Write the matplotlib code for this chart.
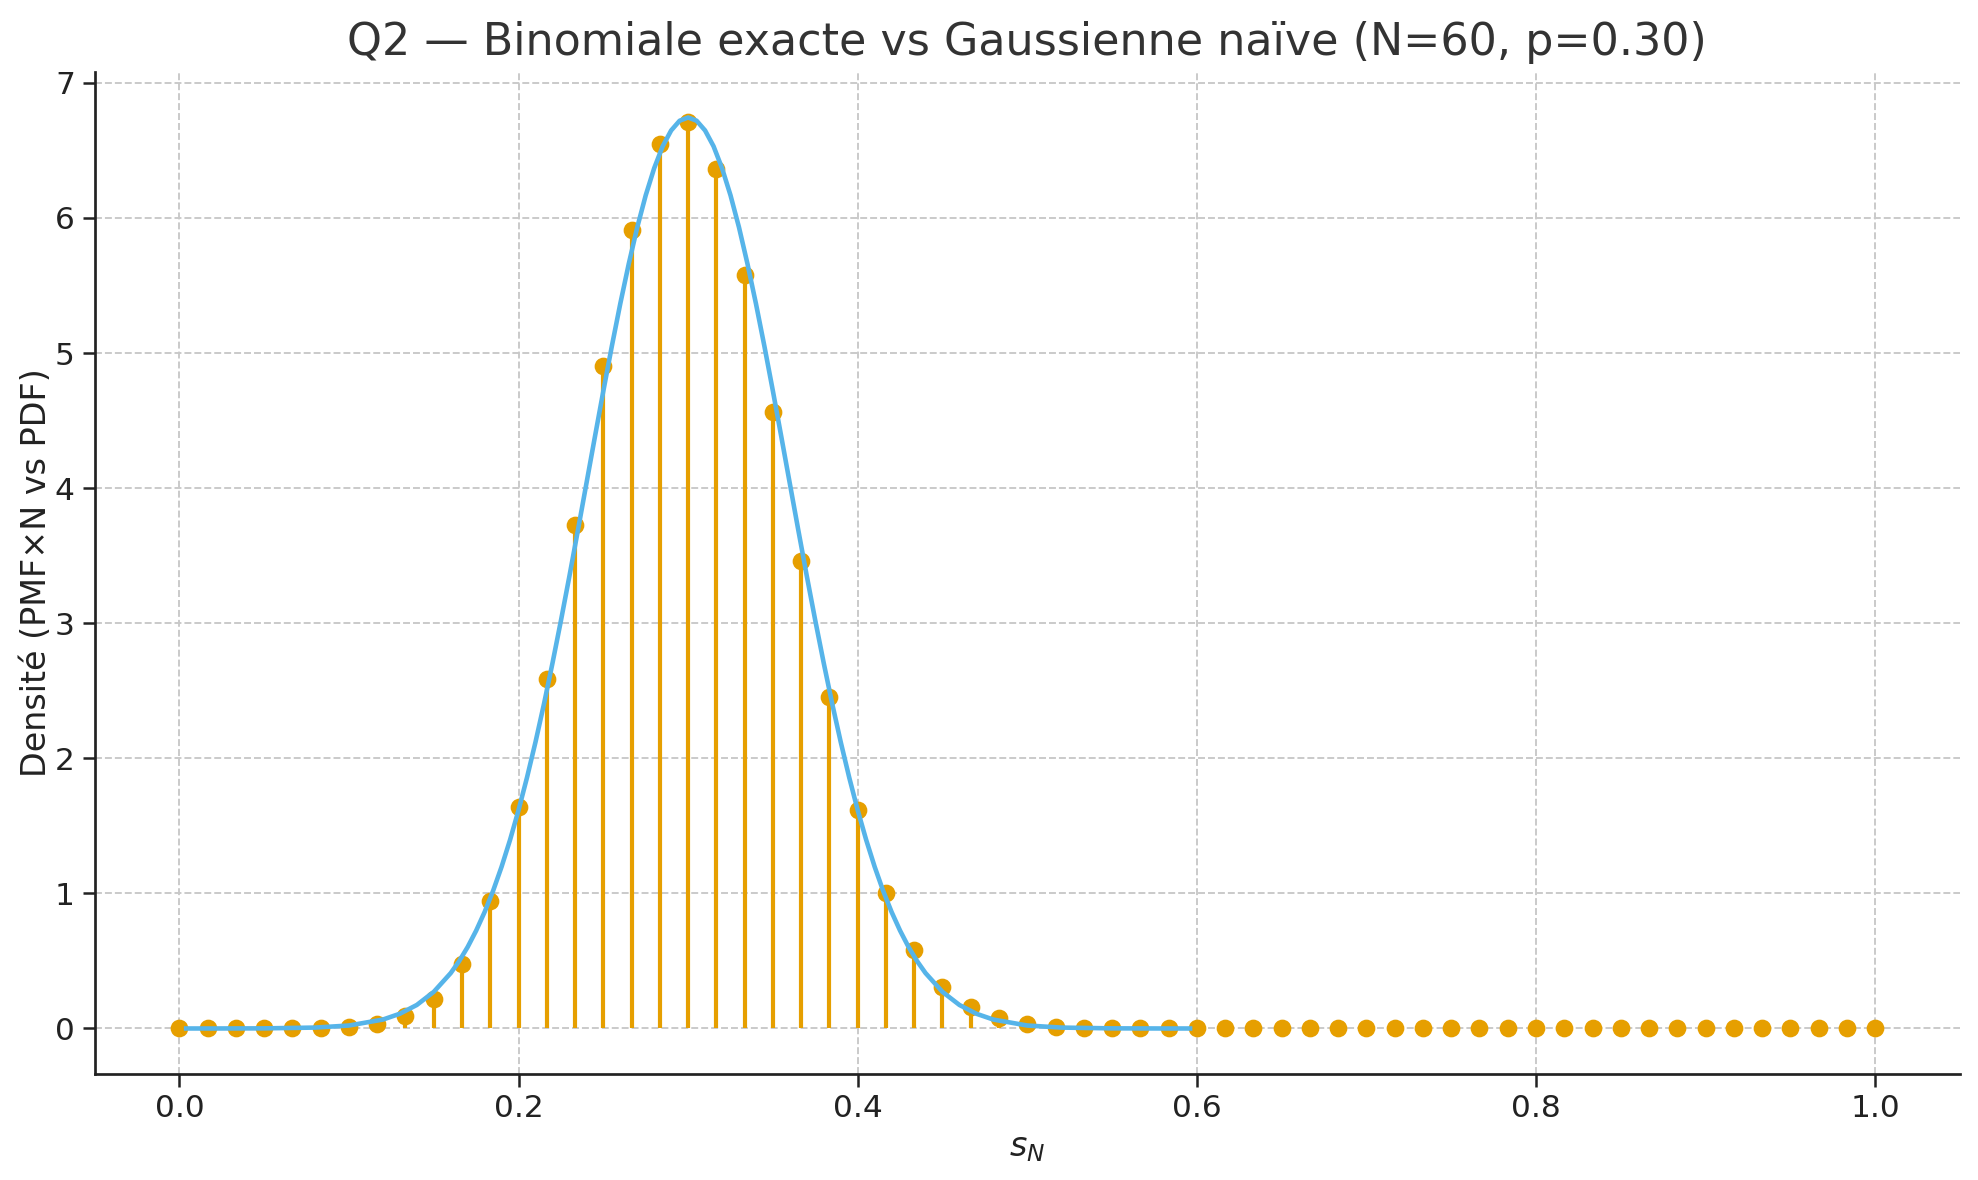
import matplotlib.pyplot as plt
import numpy as np

# Binomiale exacte (PMF x N) aux points s_N = k/N, N=60
N = 60
k = np.arange(0, 61)
s_N = k / N
pmf_x_N = [0.0, 0.0, 0.0, 0.0, 0.0005, 0.0024, 0.0095, 0.031, 0.089, 0.22,
           0.48, 0.94, 1.64, 2.59, 3.73, 4.90, 5.91, 6.55, 6.71, 6.36,
           5.58, 4.56, 3.46, 2.45, 1.62, 1.00, 0.58, 0.31, 0.157, 0.074,
           0.033, 0.014, 0.005, 0.002, 0.0007, 0.0002] + [0.0] * 25

# Gaussienne naive
x_gauss = [0.004, 0.02, 0.05, 0.08, 0.10, 0.12, 0.13, 0.14, 0.15, 0.16,
           0.165, 0.17, 0.175, 0.18, 0.185, 0.19, 0.195, 0.20, 0.205, 0.21,
           0.215, 0.22, 0.225, 0.23, 0.235, 0.24, 0.245, 0.25, 0.255, 0.26,
           0.265, 0.27, 0.275, 0.28, 0.285, 0.29, 0.295, 0.30, 0.305, 0.31,
           0.315, 0.32, 0.325, 0.33, 0.335, 0.34, 0.345, 0.35, 0.355, 0.36,
           0.365, 0.37, 0.375, 0.38, 0.385, 0.39, 0.395, 0.40, 0.405, 0.41,
           0.415, 0.42, 0.425, 0.43, 0.435, 0.44, 0.45, 0.46, 0.47, 0.48,
           0.50, 0.52, 0.55, 0.58, 0.596]
y_gauss = [0.0, 0.0, 0.0009, 0.0067, 0.022, 0.066, 0.109, 0.174, 0.271, 0.410,
           0.499, 0.603, 0.724, 0.862, 1.019, 1.197, 1.396, 1.616, 1.858, 2.120,
           2.402, 2.703, 3.019, 3.348, 3.687, 4.032, 4.377, 4.718, 5.049, 5.365,
           5.660, 5.930, 6.167, 6.368, 6.530, 6.647, 6.719, 6.743, 6.719, 6.647,
           6.530, 6.368, 6.167, 5.930, 5.660, 5.365, 5.049, 4.718, 4.377, 4.032,
           3.687, 3.348, 3.019, 2.703, 2.402, 2.120, 1.858, 1.616, 1.396, 1.197,
           1.019, 0.862, 0.724, 0.603, 0.499, 0.410, 0.271, 0.174, 0.109, 0.066,
           0.022, 0.0067, 0.0009, 0.0, 0.0]

orange = '#E69F00'
bleu = '#56B4E9'

fig = plt.figure(figsize=(13.193, 7.867), dpi=150)
ax = fig.add_axes([0.0478, 0.0898, 0.9426, 0.8492])

ml, sl, bl = ax.stem(s_N, pmf_x_N, basefmt=' ')
plt.setp(sl, color=orange, linewidth=2.0)
plt.setp(ml, color=orange, markersize=7.5, zorder=3)
ax.plot(x_gauss, y_gauss, color=bleu, linewidth=2.2, zorder=4)

ax.grid(True, linestyle='--', color='#c8c8c8', linewidth=0.9)
ax.set_axisbelow(True)
for side in ['top', 'right']:
    ax.spines[side].set_visible(False)
for side in ['left', 'bottom']:
    ax.spines[side].set_linewidth(1.3)
    ax.spines[side].set_color('#222222')

ax.set_xticks([0.0, 0.2, 0.4, 0.6, 0.8, 1.0])
ax.tick_params(labelsize=15, colors='#222222', width=1.2, length=6)
ax.set_xlabel('$s_N$', fontsize=16, color='#222222')
ax.set_ylabel('Densité (PMF×N vs PDF)', fontsize=16, color='#222222', labelpad=1)
ax.set_title('Q2 — Binomiale exacte vs Gaussienne naïve (N=60, p=0.30)',
             fontsize=21.3, color='#333333', pad=8)

plt.savefig('out.png', dpi=150)
